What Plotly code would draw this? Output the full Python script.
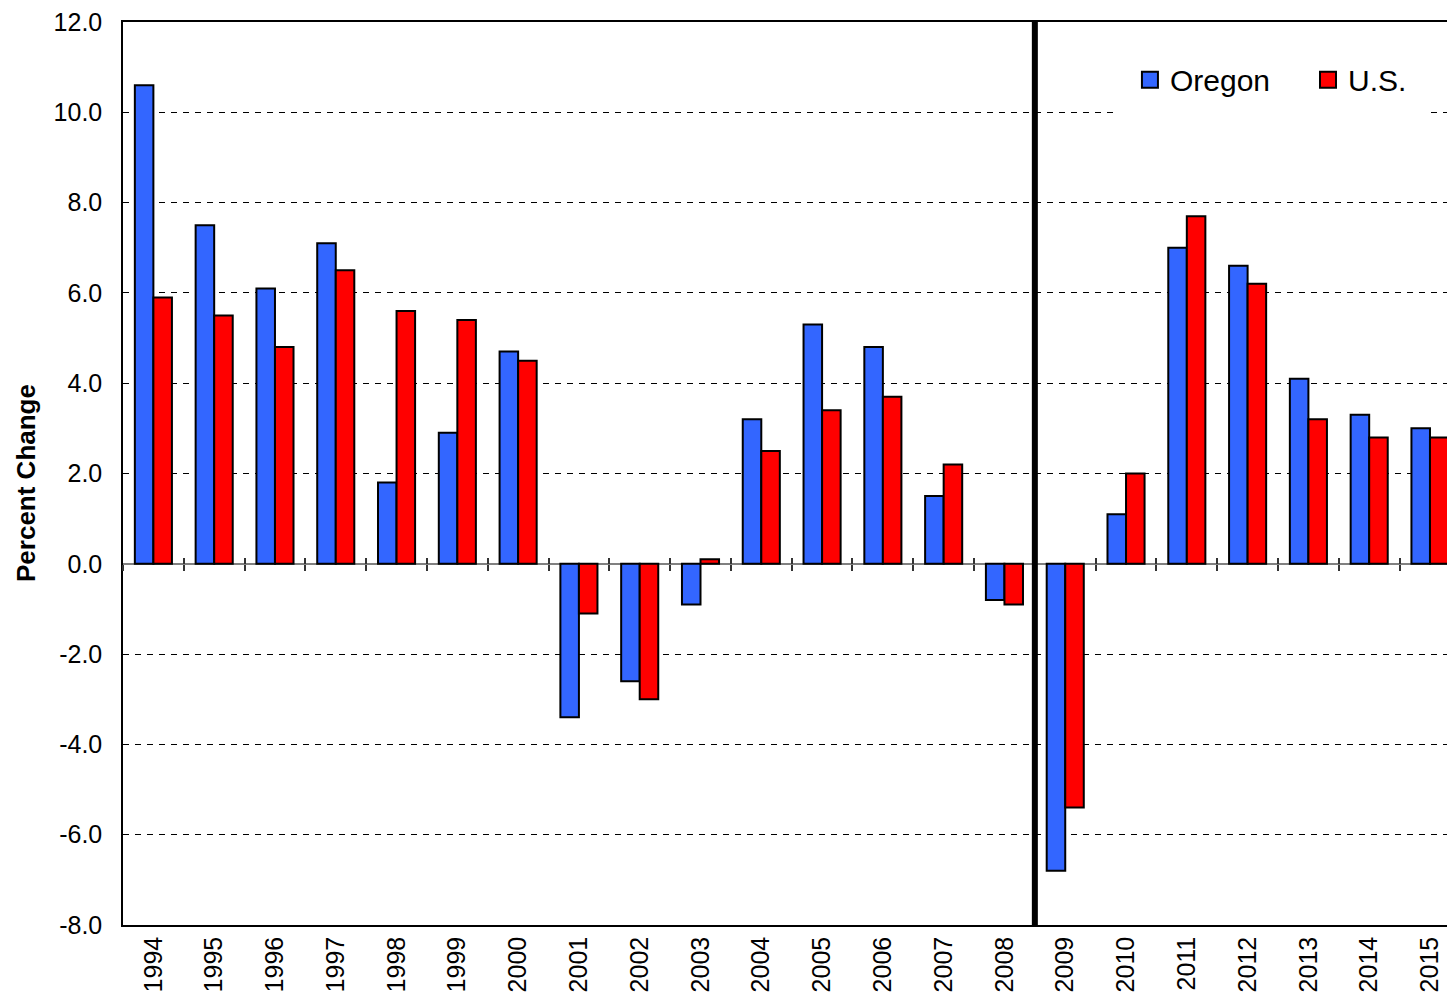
import plotly.graph_objects as go

years = [str(y) for y in range(1994, 2016)]
oregon = [10.6, 7.5, 6.1, 7.1, 1.8, 2.9, 4.7, -3.4, -2.6, -0.9, 3.2, 5.3,
          4.8, 1.5, -0.8, -6.8, 1.1, 7.0, 6.6, 4.1, 3.3, 3.0]
us = [5.9, 5.5, 4.8, 6.5, 5.6, 5.4, 4.5, -1.1, -3.0, 0.1, 2.5, 3.4,
      3.7, 2.2, -0.9, -5.4, 2.0, 7.7, 6.2, 3.2, 2.8, 2.8]
y_ticks = [-8, -6, -4, -2, 0, 2, 4, 6, 8, 10, 12]
y_ticktext = [f"{v:.1f}" for v in y_ticks]
divider_after = "2008"
series_names = ["Oregon", "U.S."]
series_colors = ["#3366FF", "#FF0000"]

FONT = "Arial, Liberation Sans, sans-serif"
xrange_ = [-0.5, 21.28]

fig = go.Figure()
for name, vals, col in zip(series_names, [oregon, us], series_colors):
    fig.add_trace(go.Bar(x=years, y=vals, name=name, showlegend=False,
                         marker=dict(color=col, line=dict(color="black", width=2))))

# legend-only entries (larger square swatches), one legend each
for name, col, lg in zip(series_names, series_colors, ["legend", "legend2"]):
    fig.add_trace(go.Scatter(x=[None], y=[None], name=name, mode="markers",
                             legend=lg,
                             marker=dict(symbol="square", size=16, color=col,
                                         line=dict(color="black", width=2))))

# invisible traces to carry the tick axes at the zero line
for ax in ("x2", "x3"):
    fig.add_trace(go.Scatter(x=years, y=[0] * len(years), xaxis=ax, yaxis="y",
                             mode="markers", marker=dict(opacity=0),
                             showlegend=False, hoverinfo="skip"))

idx = years.index(divider_after)
fig.add_shape(type="line", xref="x", yref="paper", x0=idx + 0.5, x1=idx + 0.5,
              y0=0, y1=1, line=dict(color="black", width=6))

fig.add_annotation(text="<b>Percent Change</b>", textangle=-90,
                   xref="paper", yref="paper", x=0, y=0.4895,
                   xanchor="center", yanchor="middle", xshift=-97,
                   showarrow=False, font=dict(size=26, family=FONT))

common_x = dict(type="category", categoryorder="array", categoryarray=years,
                range=xrange_)

fig.update_layout(
    width=1447, height=997,
    margin=dict(l=123, r=0, t=22, b=72),
    paper_bgcolor="white", plot_bgcolor="white",
    font=dict(family=FONT, size=25, color="black"),
    barmode="group", bargap=0.39, bargroupgap=0,
    showlegend=True,
    legend=dict(orientation="h", x=0.7492, y=0.936, xanchor="left", yanchor="middle",
                font=dict(size=30, family=FONT), bgcolor="white",
                bordercolor="white", borderwidth=15,
                entrywidth=110, entrywidthmode="pixels"),
    legend2=dict(orientation="h", x=0.8837, y=0.936, xanchor="left", yanchor="middle",
                 font=dict(size=30, family=FONT), bgcolor="white",
                 bordercolor="white", borderwidth=15),
    xaxis=dict(**common_x, showline=True, linecolor="black", linewidth=1.5,
               mirror=True, showgrid=False, tickangle=-90, ticks="",
               tickfont=dict(size=25), automargin=False),
    xaxis2=dict(**common_x, overlaying="x", anchor="free", position=0.4,
                showline=False, showgrid=False, showticklabels=False,
                ticks="outside", tickson="boundaries", ticklen=6,
                tickcolor="#333333", tickwidth=1.5),
    xaxis3=dict(**common_x, overlaying="x", anchor="free", position=0.4,
                showline=False, showgrid=False, showticklabels=False,
                ticks="inside", tickson="boundaries", ticklen=6,
                tickcolor="#333333", tickwidth=1.5),
    yaxis=dict(range=[-8, 12], tickvals=y_ticks, ticktext=y_ticktext,
               showline=True, linecolor="black", linewidth=1.5,
               showgrid=True, gridcolor="black", gridwidth=1, griddash="6px,6px",
               zeroline=True, zerolinecolor="#808080", zerolinewidth=2,
               ticks="outside", ticklen=14, tickcolor="rgba(0,0,0,0)",
               ticklabeloverflow="allow",
               tickfont=dict(size=25), automargin=False),
)

fig.write_html(
    "out.html",
    config={"displayModeBar": False},
    post_script="document.body.style.margin='0';document.body.style.overflow='hidden';",
)
